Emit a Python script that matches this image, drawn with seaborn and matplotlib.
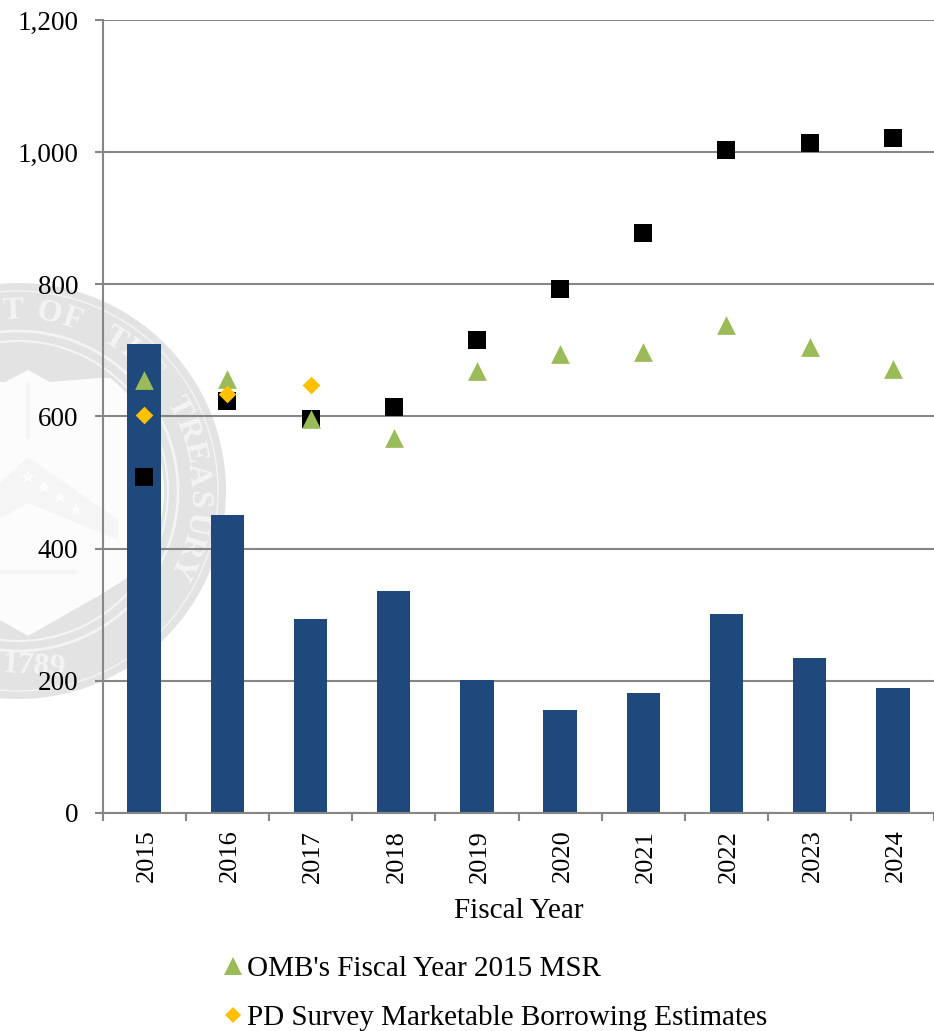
# Marketable borrowing estimates by fiscal year, bars + marker series
# with the faded Treasury seal sitting behind the plot.

import numpy as np
import pandas as pd
import seaborn as sns
import matplotlib.pyplot as plt
from matplotlib.lines import Line2D
from matplotlib.patches import Circle, Polygon
from matplotlib.transforms import ScaledTranslation


years = ["2015", "2016", "2017", "2018", "2019", "2020", "2021", "2022", "2023", "2024"]
bar_values = [710, 451, 293, 336, 201, 156, 181, 301, 234, 189]
square_values = [508, 623, 596, 614, 716, 793, 878, 1003, 1014, 1021]
omb_msr = [655, 657, 596, 567, 669, 695, 698, 738, 705, 672]
pd_survey = [602, 634, 648, None, None, None, None, None, None, None]

y_ticks = [0, 200, 400, 600, 800, 1000, 1200]
y_tick_labels = ["0", "200", "400", "600", "800", "1,000", "1,200"]

omb_label = "OMB's Fiscal Year 2015 MSR"
pd_label = "PD Survey Marketable Borrowing Estimates"

BLUE = "#1F497D"
GREEN = "#9BBB59"
GOLD = "#FFC000"
GRID = "#868686"
SEAL = "#E3E3E3"
SEAL_LINE = "#F4F4F4"
SEAL_WHITE = "#FCFCFC"
SEAL_FAINT = "#F5F5F5"
W, H = 934, 1031


def draw_seal(fig):
    # pixel coordinates, y pointing down
    bg = fig.add_axes([0, 0, 1, 1], zorder=0)
    bg.set_xlim(0, W)
    bg.set_ylim(H, 0)
    bg.axis("off")
    cx, cy = 18, 491
    bg.add_patch(Circle((cx, cy), 208, fc=SEAL, ec="none"))
    bg.add_patch(Circle((cx, cy), 200, fc="none", ec=SEAL_LINE, lw=1))
    bg.add_patch(Circle((cx, cy), 160, fc="none", ec=SEAL_LINE, lw=2))
    bg.add_patch(Circle((cx, cy), 150, fc="none", ec=SEAL_LINE, lw=1.5))

    inner = Circle((cx, cy), 146, transform=bg.transData)
    field = [(-200, 385), (5, 382), (28, 370), (50, 382), (100, 378), (220, 378),
             (220, 520), (100, 595), (28, 636), (-44, 595), (-200, 520)]
    bg.add_patch(Polygon(field, fc=SEAL_WHITE, ec="none", clip_path=inner))
    chevron = [(28, 457), (118, 520), (118, 540), (28, 503), (-40, 540), (-40, 520)]
    bg.add_patch(Polygon(chevron, fc=SEAL_FAINT, ec="none"))
    bg.plot([-10, 75], [572, 572], color=SEAL_FAINT, lw=3)
    bg.plot([28, 28], [385, 437], color=SEAL_FAINT, lw=3)
    for px, py in [(28, 477), (44, 487), (60, 497), (76, 510)]:
        bg.plot(px, py, marker="*", ms=10, color=SEAL_WHITE, mew=0)

    # the start of the ring text falls off the page in the original
    letters = "T OF THE TREASURY"
    for i, ch in enumerate(letters):
        angle = max(115 - 7.5 * (len(letters) - 1 - i), -1.5)
        rad = np.radians(angle)
        bg.text(cx + 180 * np.sin(rad), cy - 180 * np.cos(rad), ch,
                rotation=-angle, rotation_mode="anchor", ha="center", va="center",
                fontsize=23, fontweight="bold", color=SEAL_LINE)
    bg.text(34, 667, "1789", rotation=-4, ha="center", va="center",
            fontsize=23, fontweight="bold", color=SEAL_LINE)


sns.set_theme(style="white")
plt.rcParams["font.family"] = ["Liberation Serif", "DejaVu Serif"]
plt.rcParams["text.color"] = "black"

fig = plt.figure(figsize=(W / 100, H / 100), dpi=100)
draw_seal(fig)

ax = fig.add_axes([102.5 / W, 1 - 813 / H, 832 / W, 793 / H], zorder=1)
ax.patch.set_visible(False)

df = pd.DataFrame({"year": years, "bars": bar_values, "squares": square_values,
                   "omb": omb_msr, "pd": pd_survey})

sns.barplot(data=df, x="year", y="bars", order=years, color=BLUE, width=0.4,
            saturation=1, linewidth=0, ax=ax, zorder=2)
sns.stripplot(data=df, x="year", y="squares", order=years, color="black", marker="s",
              size=13.5, jitter=False, linewidth=0, ax=ax, zorder=3)
sns.stripplot(data=df, x="year", y="omb", order=years, color=GREEN, marker="^",
              size=13.5, jitter=False, linewidth=0, ax=ax, zorder=4)
sns.stripplot(data=df, x="year", y="pd", order=years, color=GOLD, marker="D",
              size=9, jitter=False, linewidth=0, ax=ax, zorder=5)

ax.set_xlim(-0.5, 9.5)
ax.set_ylim(0, 1200)
ax.set_yticks(y_ticks)
ax.set_yticklabels(y_tick_labels)
ax.set_xlabel("Fiscal Year", fontsize=21, color="black")
ax.xaxis.set_label_coords(0.5, -85 / 793)
ax.set_ylabel("")
ax.grid(axis="y", color=GRID, lw=1.5)
ax.set_axisbelow(True)

# ticks sit between the categories, labels on the categories
ax.set_xticks(np.arange(-0.5, 10), minor=True)
ax.tick_params(axis="x", which="minor", bottom=True, length=6, width=1.5, color=GRID)
ax.tick_params(axis="x", which="major", bottom=False, labelsize=19, labelcolor="black",
               labelrotation=90, pad=6)
ax.tick_params(axis="y", left=True, length=6, width=1.5, color=GRID, labelsize=19.5,
               labelcolor="black", pad=11.5)
for label in ax.get_xticklabels():
    label.set_transform(label.get_transform() + ScaledTranslation(2 / 72, 0, fig.dpi_scale_trans))

for side in ["top", "right"]:
    ax.spines[side].set_visible(False)
for side in ["left", "bottom"]:
    ax.spines[side].set_color(GRID)
    ax.spines[side].set_linewidth(1.5)

handles = [
    Line2D([], [], linestyle="none", marker="^", ms=12.5, mfc=GREEN, mew=0),
    Line2D([], [], linestyle="none", marker="D", ms=8.5, mfc=GOLD, mew=0),
]
fig.legend(handles, [omb_label, pd_label], loc="upper left", frameon=False,
           bbox_to_anchor=(218 / W, 1 - 955.5 / H), fontsize=21, labelspacing=0.78,
           handletextpad=0.0, handlelength=1.0, borderpad=0, borderaxespad=0)

plt.savefig("out.png", dpi=100)
